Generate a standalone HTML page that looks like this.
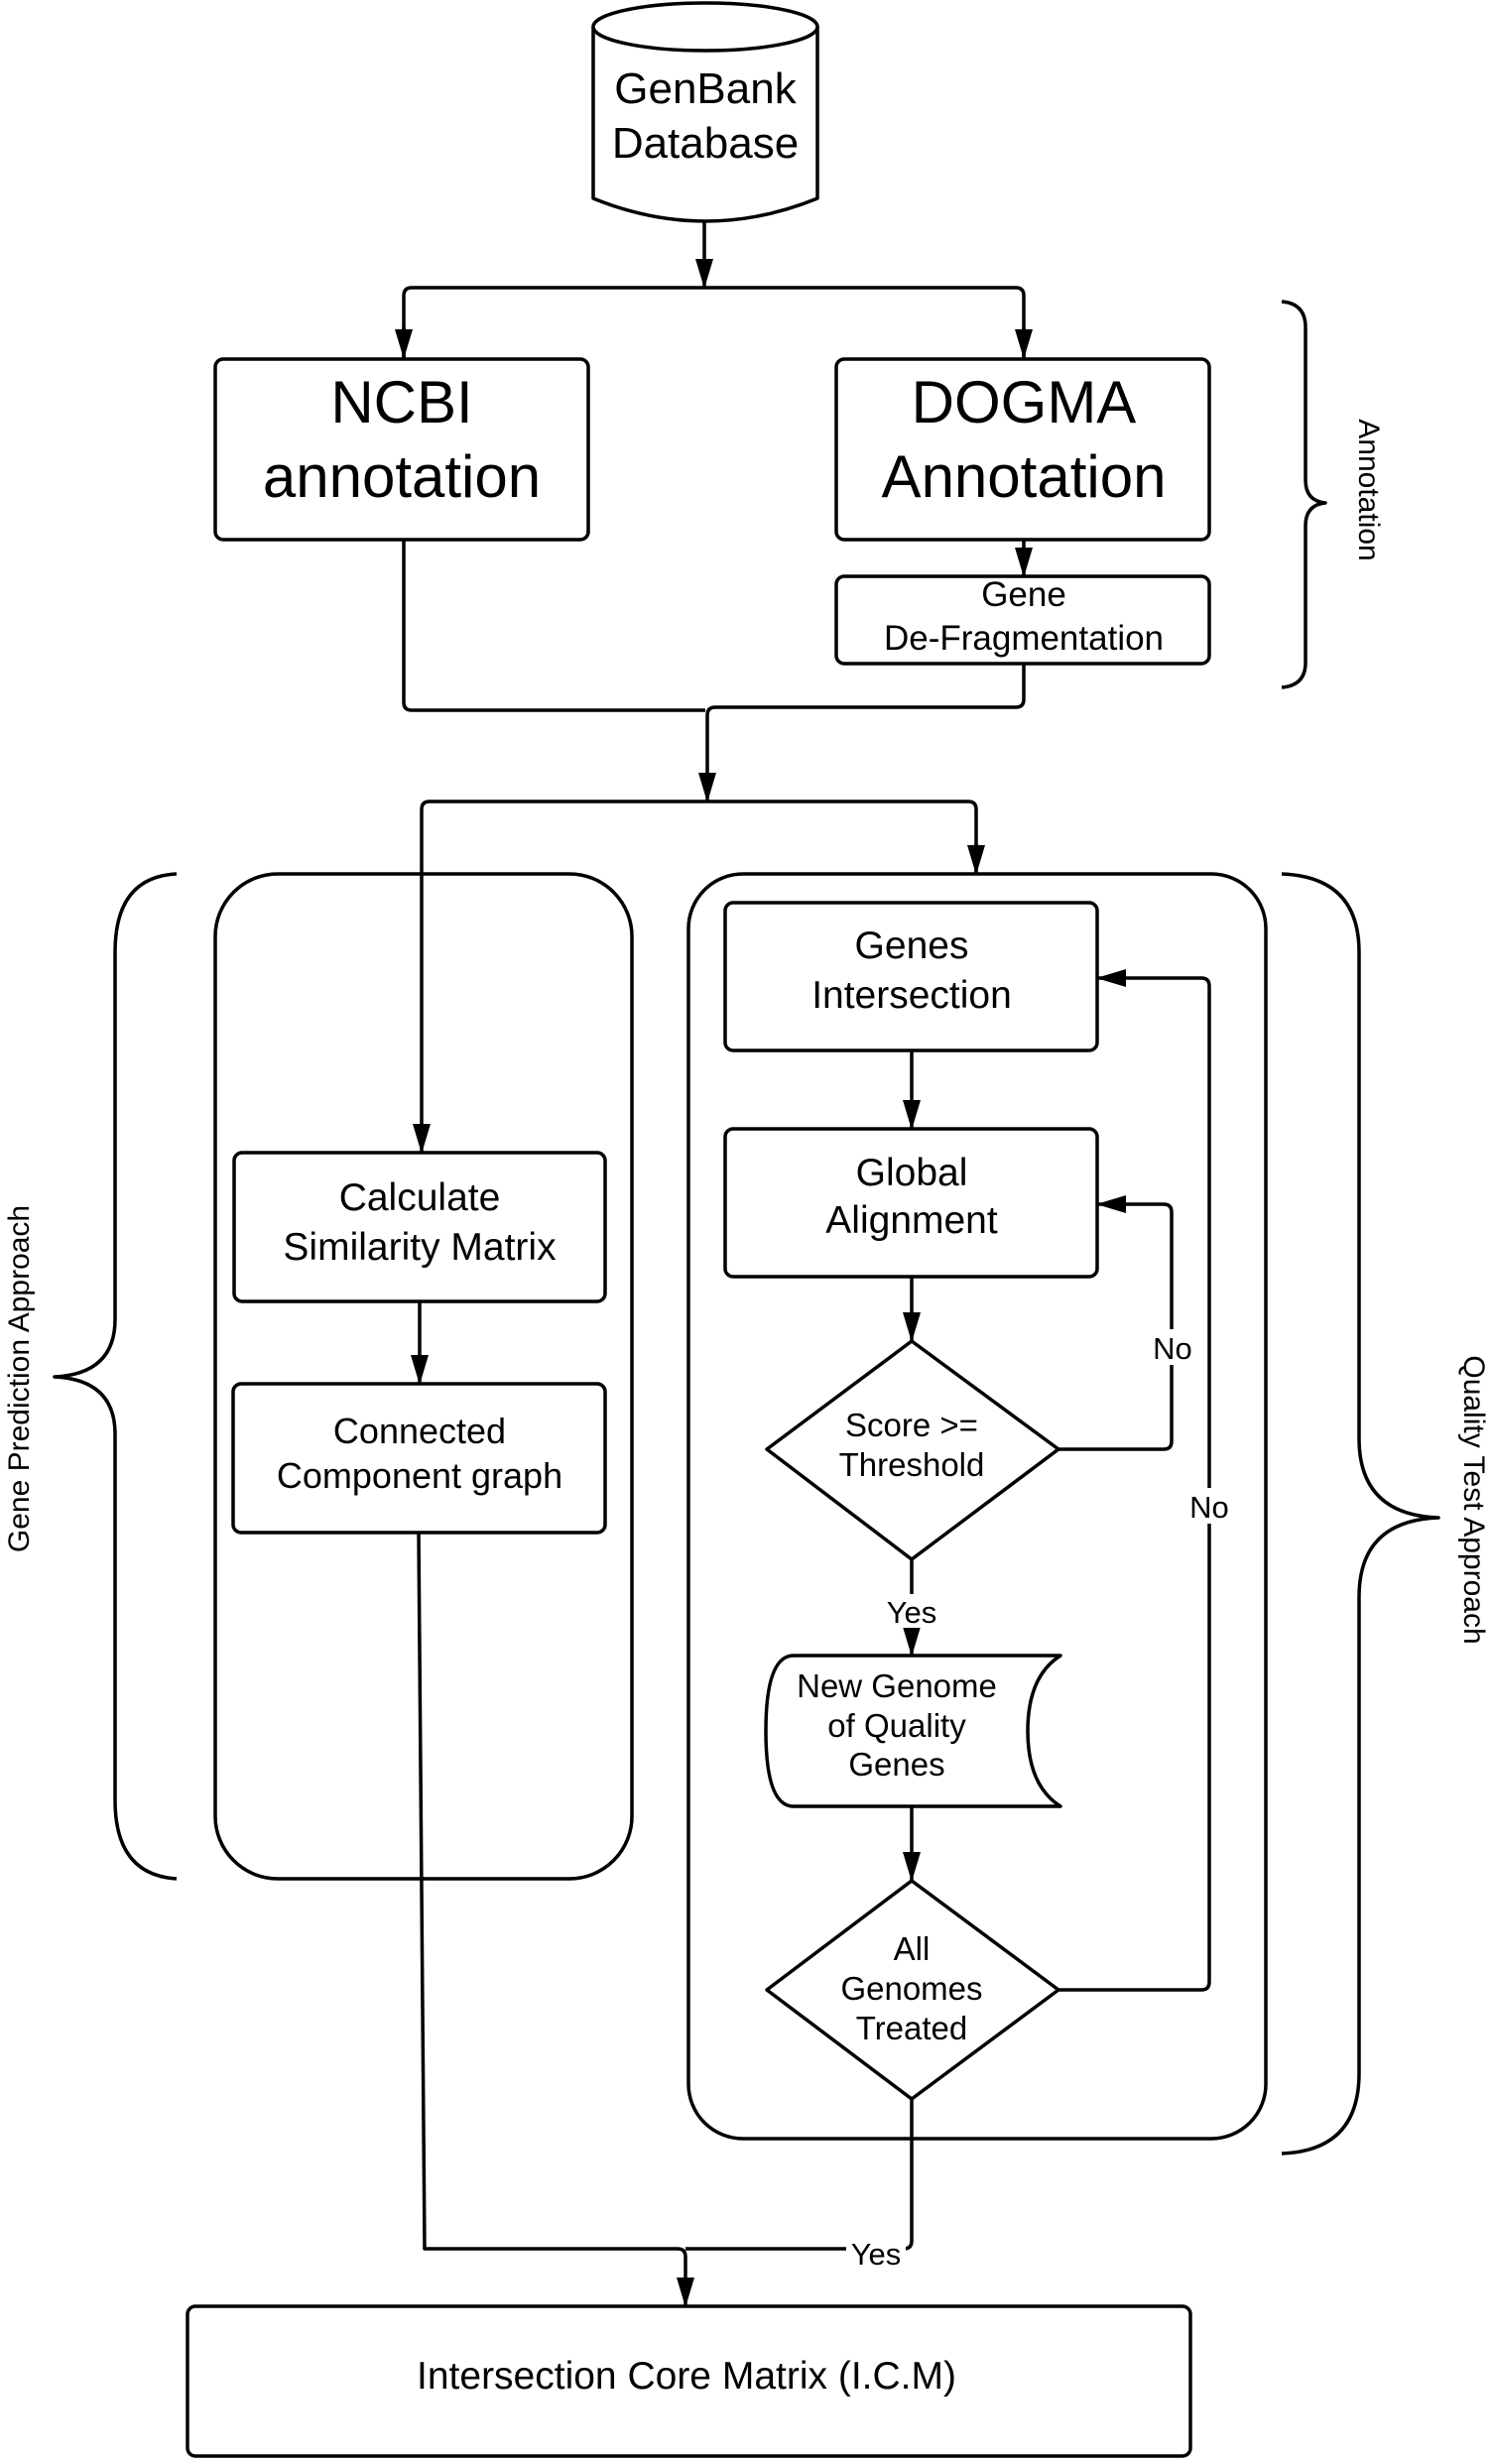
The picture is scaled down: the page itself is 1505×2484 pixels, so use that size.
<!DOCTYPE html>
<html><head><meta charset="utf-8"><style>
html,body{margin:0;padding:0;background:#fff;}
svg{display:block;}
text{font-family:"Liberation Sans",Arial,sans-serif;fill:#000;text-anchor:middle;}
</style></head><body>
<svg width="1505" height="2484" viewBox="0 0 1505 2484" xmlns="http://www.w3.org/2000/svg">
<defs>
<marker id="b" markerWidth="30" markerHeight="18" refX="29" refY="9" orient="auto" markerUnits="userSpaceOnUse">
<path d="M0,0 L30,9 L0,18 z" fill="#000"/></marker>
</defs>
<g fill="none" stroke="#000" stroke-width="3.5" stroke-linejoin="round">
<path d="M598,27 L598,200 Q711,246 824,200 L824,27"/>
<ellipse cx="711" cy="27" rx="113" ry="24" fill="#fff"/>
<path d="M710,222 L710,290" marker-end="url(#b)"/>
<path d="M407,361 L407,298 Q407,290 415,290 L1024,290 Q1032,290 1032,298 L1032,361" />
<path d="M407,330 L407,361" marker-end="url(#b)"/>
<path d="M1032,330 L1032,361" marker-end="url(#b)"/>
<rect x="217" y="362" width="376" height="182" rx="8"/>
<rect x="843" y="362" width="376" height="182" rx="8"/>
<rect x="843" y="581" width="376" height="88" rx="8"/>
<path d="M1032,544 L1032,581" marker-end="url(#b)"/>
<path d="M407,544 L407,708 Q407,716 415,716 L711,716"/>
<path d="M1032,669 L1032,705 Q1032,713 1024,713 L721,713 Q713,713 713,721 L713,808" marker-end="url(#b)"/>
<path d="M425,881 L425,816 Q425,808 433,808 L976,808 Q984,808 984,816 L984,881"/>
<path d="M984,850 L984,881" marker-end="url(#b)"/>
<path d="M1292,304 Q1316,306 1316,330 L1316,484 Q1316,505 1336,507 Q1316,509 1316,530 L1316,668 Q1316,691 1292,693"/>
<rect x="217" y="881" width="420" height="1013" rx="63"/>
<rect x="694" y="881" width="582" height="1275" rx="55"/>
<path d="M178,881 Q116,884 116,960 L116,1330 Q116,1385 55,1388 Q116,1391 116,1446 L116,1815 Q116,1890 178,1894"/>
<path d="M1292,881 Q1370,884 1370,960 L1370,1450 Q1370,1527 1450,1530 Q1370,1533 1370,1610 L1370,2090 Q1370,2168 1292,2171"/>
<path d="M425,881 L425,1162" marker-end="url(#b)"/>
<rect x="236" y="1162" width="374" height="150" rx="8"/>
<path d="M423,1312 L423,1395" marker-end="url(#b)"/>
<rect x="235" y="1395" width="375" height="150" rx="8"/>
<path d="M422,1545 L428,2267 L683,2267 Q691,2267 691,2275 L691,2325" marker-end="url(#b)"/>
<rect x="189" y="2325" width="1011" height="151" rx="8"/>
<rect x="731" y="910" width="375" height="149" rx="8"/>
<path d="M919,1059 L919,1138" marker-end="url(#b)"/>
<rect x="731" y="1138" width="375" height="149" rx="8"/>
<path d="M919,1287 L919,1352" marker-end="url(#b)"/>
<path d="M919,1352 L1067,1461 L919,1572 L773,1461 Z"/>
<path d="M1067,1461 L1173,1461 Q1181,1461 1181,1453 L1181,1222 Q1181,1214 1173,1214 L1106,1214" marker-end="url(#b)"/>
<path d="M919,1572 L919,1669" marker-end="url(#b)"/>
<path d="M800,1669 L1069,1669 Q1036,1690 1036,1745 Q1036,1800 1069,1821 L800,1821 Q772,1821 772,1745 Q772,1669 800,1669 Z"/>
<path d="M919,1821 L919,1896" marker-end="url(#b)"/>
<path d="M919,1896 L1067,2006 L919,2116 L773,2006 Z"/>
<path d="M1067,2006 L1211,2006 Q1219,2006 1219,1998 L1219,994 Q1219,986 1211,986 L1106,986" marker-end="url(#b)"/>
<path d="M919,2116 L919,2259 Q919,2267 911,2267 L691,2267"/>
</g>
<rect x="1164" y="1340" width="36" height="36" fill="#fff"/>
<rect x="1198" y="1500" width="40" height="36" fill="#fff"/>
<rect x="892" y="1607" width="56" height="34" fill="#fff"/>
<rect x="853" y="2255" width="60" height="32" fill="#fff"/>
<g>
<text x="711" y="104" font-size="44">GenBank</text>
<text x="711" y="159" font-size="44">Database</text>
<text x="405" y="426" font-size="60">NCBI</text>
<text x="405" y="501" font-size="60">annotation</text>
<text x="1032" y="426" font-size="60">DOGMA</text>
<text x="1032" y="501" font-size="60">Annotation</text>
<text x="1032" y="611" font-size="35">Gene</text>
<text x="1032" y="655" font-size="35">De-Fragmentation</text>
<text x="423" y="1220" font-size="39">Calculate</text>
<text x="423" y="1270" font-size="39">Similarity Matrix</text>
<text x="423" y="1455" font-size="36">Connected</text>
<text x="423" y="1500" font-size="36">Component graph</text>
<text x="919" y="966" font-size="39">Genes</text>
<text x="919" y="1016" font-size="39">Intersection</text>
<text x="919" y="1195" font-size="39">Global</text>
<text x="919" y="1243" font-size="39">Alignment</text>
<text x="919" y="1448" font-size="33">Score &gt;=</text>
<text x="919" y="1488" font-size="33">Threshold</text>
<text x="1182" y="1370" font-size="31">No</text>
<text x="1219" y="1530" font-size="31">No</text>
<text x="919" y="1636" font-size="31">Yes</text>
<text x="904" y="1711" font-size="33">New Genome</text>
<text x="904" y="1751" font-size="33">of Quality</text>
<text x="904" y="1790" font-size="33">Genes</text>
<text x="919" y="1976" font-size="33">All</text>
<text x="919" y="2016" font-size="33">Genomes</text>
<text x="919" y="2056" font-size="33">Treated</text>
<text x="883" y="2283" font-size="31">Yes</text>
<text x="692" y="2408" font-size="39">Intersection Core Matrix (I.C.M)</text>
<text x="0" y="0" font-size="30" transform="translate(1370,494) rotate(90)">Annotation</text>
<text x="0" y="0" font-size="30" transform="translate(1476,1512) rotate(90)">Quality Test Approach</text>
<text x="0" y="0" font-size="30" transform="translate(29,1390) rotate(-90)">Gene Prediction Approach</text>
</g>
</svg>
</body></html>
